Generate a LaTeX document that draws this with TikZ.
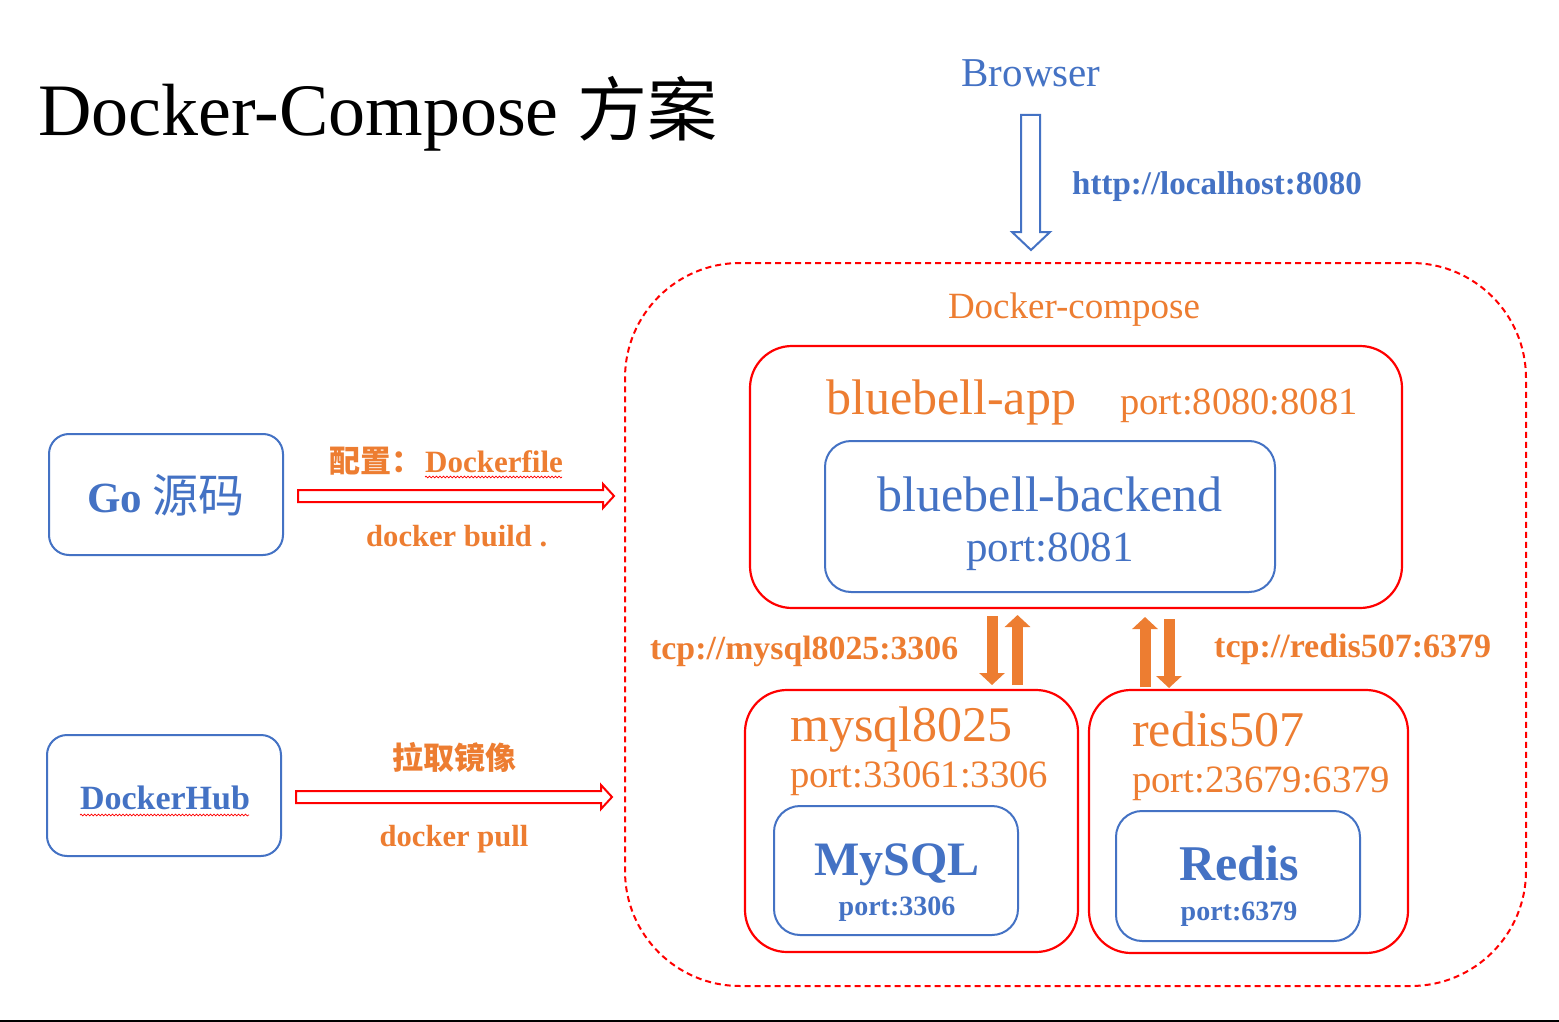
\documentclass[tikz,border=0pt]{standalone}
\usepackage{fontspec}
\setmainfont{Liberation Serif}
\newfontfamily\cjk{Noto Sans CJK SC}
\usetikzlibrary{decorations.pathmorphing,arrows.meta}
\definecolor{cblue}{HTML}{4472C4}
\definecolor{corange}{HTML}{ED7D31}
\definecolor{cred}{HTML}{FF0000}
\newcommand\fsz[1]{\fontsize{#1}{#1}\selectfont}
\begin{document}
\begin{tikzpicture}[x=1pt,y=-1pt,
  txt/.style={inner sep=0pt, anchor=base},
  redbox/.style={draw=cred, line width=2.2pt, rounded corners=42pt, inner sep=0pt},
  bluebox/.style={draw=cblue, line width=2pt, rounded corners=26pt, inner sep=0pt},
  hollowred/.style={draw=cred, line width=2pt, fill=white},
  oarrow/.style={corange, line width=11pt, -{Triangle[length=12pt,width=25pt]}},
  wavy/.style={cred, line width=0.7pt, decorate, decoration={snake, amplitude=0.9pt, segment length=3.5pt}}]
\useasboundingbox (0,0) rectangle (1559,1022);
\fill[white] (0,0) rectangle (1559,1022);

% title
\node[txt, anchor=base west] (title) at (38,136) {\fsz{74}Docker-Compose {\cjk\fsz{70}方案}};

% browser
\node[txt, text=cblue] (browser) at (1031,87) {\fsz{41}Browser};
\draw[cblue, line width=2pt, fill=white] (1021,115) -- (1040,115) -- (1040,232) -- (1050,232) -- (1031,250) -- (1012,232) -- (1021,232) -- cycle;
\node[txt, anchor=base west, text=cblue] (url) at (1072,194) {\fsz{33}\bfseries http://localhost:8080};

% docker-compose container
\node[draw=cred, line width=2pt, dashed, dash pattern=on 6pt off 4pt, rounded corners=115pt, minimum width=901pt, minimum height=723pt, inner sep=0pt] (compose) at (1075.5,624.5) {};
\node[txt, text=corange] (composelbl) at (1074,318) {\fsz{37}Docker-compose};

% bluebell-app
\node[redbox, minimum width=652pt, minimum height=262pt] (app) at (1076,477) {};
\node[txt, anchor=base west, text=corange] (applbl) at (826,414) {\fsz{50}bluebell-app};
\node[txt, anchor=base west, text=corange] (appport) at (1120,414) {\fsz{38.5}port:8080:8081};
\node[bluebox, minimum width=450pt, minimum height=151pt] (backend) at (1050,516.5) {};
\node[txt, text=cblue] (backendlbl) at (1050,511) {\fsz{50}bluebell-backend};
\node[txt, text=cblue] (backendport) at (1050,561) {\fsz{43}port:8081};

% mysql
\node[redbox, minimum width=333pt, minimum height=262pt] (mysqlbox) at (911.5,821) {};
\node[txt, anchor=base west, text=corange] (mysqllbl) at (790,741) {\fsz{50}mysql8025};
\node[txt, anchor=base west, text=corange] (mysqlport) at (790,787) {\fsz{38.7}port:33061:3306};
\node[bluebox, minimum width=244pt, minimum height=129pt] (mysqlin) at (896,870.5) {};
\node[txt, text=cblue] (mysqlname) at (897,875) {\fsz{48}\bfseries MySQL};
\node[txt, text=cblue] (mysqlinport) at (897,915) {\fsz{28}\bfseries port:3306};

% redis
\node[redbox, minimum width=319pt, minimum height=263pt] (redisbox) at (1248.5,821.5) {};
\node[txt, anchor=base west, text=corange] (redislbl) at (1132,746) {\fsz{50}redis507};
\node[txt, anchor=base west, text=corange] (redisport) at (1132,792) {\fsz{38.7}port:23679:6379};
\node[bluebox, minimum width=244pt, minimum height=130pt] (redisin) at (1238,876) {};
\node[txt, text=cblue] (redisname) at (1239,880) {\fsz{50}\bfseries Redis};
\node[txt, text=cblue] (redisinport) at (1239,920) {\fsz{28}\bfseries port:6379};

% tcp arrows
\draw[oarrow] (992,616) -- (992,685);
\draw[oarrow] (1017.5,685) -- (1017.5,615);
\draw[oarrow] (1145,687) -- (1145,617);
\draw[oarrow] (1169,619) -- (1169,688);
\node[txt, anchor=base west, text=corange] (tcpmysql) at (650,659) {\fsz{33.8}\bfseries tcp://mysql8025:3306};
\node[txt, anchor=base west, text=corange] (tcpredis) at (1214,657) {\fsz{34}\bfseries tcp://redis507:6379};

% Go source
\node[draw=cblue, line width=2pt, rounded corners=20pt, minimum width=234pt, minimum height=121pt, inner sep=0pt] (go) at (166,494.5) {};
\node[txt, text=cblue] (golbl) at (166,512) {\fsz{43}\bfseries Go {\cjk\mdseries\fsz{46}源码}};
\draw[hollowred] (298,490) -- (603,490) -- (603,484) -- (614,496) -- (603,508) -- (603,502) -- (298,502) -- cycle;
\node[txt, anchor=base west, text=corange] (cfg) at (329,472) {\cjk\bfseries\fsz{31}配置：};
\node[txt, anchor=base west, text=corange] (dockerfile) at (425,472) {\fsz{31}\bfseries Dockerfile};
\draw[wavy] (425,477) -- (562,477);
\node[txt, anchor=base west, text=corange] (build) at (366,546) {\fsz{30.6}\bfseries docker build .};

% DockerHub
\node[draw=cblue, line width=2pt, rounded corners=20pt, minimum width=234pt, minimum height=121pt, inner sep=0pt] (hub) at (164,795.5) {};
\node[txt, text=cblue] (hublbl) at (165,809) {\fsz{34}\bfseries DockerHub};
\draw[wavy] (80,815) -- (249,815);
\draw[hollowred] (296,791) -- (601,791) -- (601,785) -- (612,797) -- (601,809) -- (601,803) -- (296,803) -- cycle;
\node[txt, text=corange] (pulllbl) at (454,769) {\cjk\bfseries\fsz{31}拉取镜像};
\node[txt, text=corange] (pull) at (454,846) {\fsz{30.6}\bfseries docker pull};

% bottom rule
\draw[black, line width=2pt] (0,1021) -- (1559,1021);
\end{tikzpicture}
\end{document}
